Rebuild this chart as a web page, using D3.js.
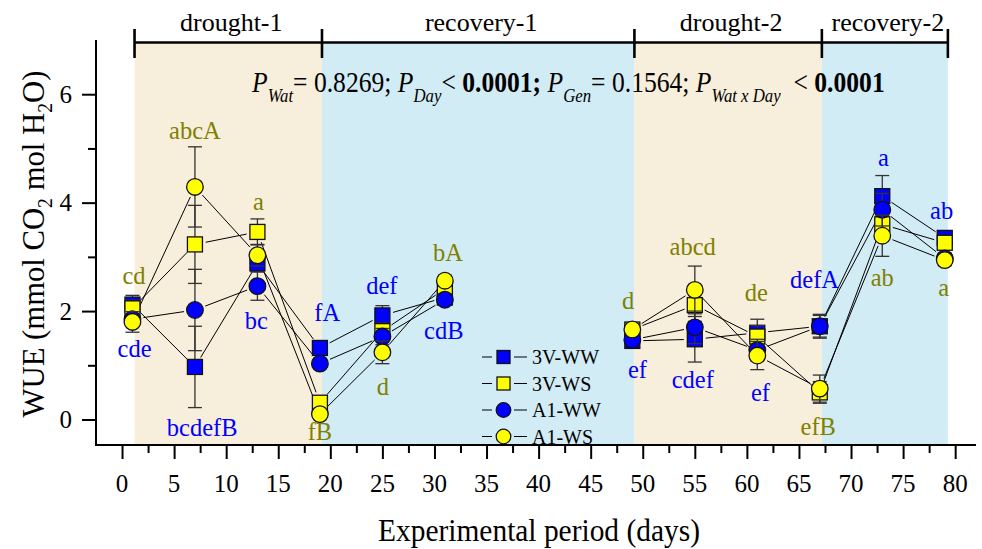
<!DOCTYPE html>
<html>
<head>
<meta charset="utf-8">
<script src="https://cdn.jsdelivr.net/npm/d3@7"></script>
<style>
  html, body { margin: 0; padding: 0; background: #fff; }
  svg { display: block; font-family: "Liberation Serif", "Times New Roman", serif; }
  text { white-space: pre; }
</style>
</head>
<body>
<svg id="chart" width="982" height="549"></svg>
<script>
// ---- data -------------------------------------------------------------
const days = [1, 7, 13, 19, 25, 31, 49, 55, 61, 67, 73, 79];

const wue3VWW = [2.12, 0.97, 2.88, 1.32, 1.92, 2.25, 1.45, 1.48, 1.60, 1.72, 4.12, 3.35];
const wue3VWS = [2.05, 3.23, 3.46, 0.31, 1.63, 2.41, 1.66, 2.11, 1.53, 0.50, 3.60, 3.26];
const wueA1WW = [1.85, 2.02, 2.46, 1.03, 1.53, 2.21, 1.47, 1.70, 1.28, 1.72, 3.87, 2.97];
const wueA1WS = [1.80, 4.29, 3.03, 0.10, 1.24, 2.56, 1.66, 2.39, 1.18, 0.57, 3.39, 2.94];

const se3VWW = [0.17, 0.75, 0.15, 0.08, 0.18, 0.10, 0.10, 0.42, 0.25, 0.20, 0.38, 0.10];
const se3VWS = [0.15, 0.72, 0.24, 0.10, 0.15, 0.10, 0.10, 0.30, 0.20, 0.20, 0.30, 0.10];
const seA1WW = [0.10, 0.75, 0.26, 0.08, 0.15, 0.10, 0.10, 0.30, 0.20, 0.22, 0.30, 0.10];
const seA1WS = [0.19, 0.74, 0.20, 0.08, 0.21, 0.10, 0.10, 0.44, 0.26, 0.25, 0.38, 0.10];

const seriesNames = ["3V-WW", "3V-WS", "A1-WW", "A1-WS"];
const seriesShapes = ["square", "square", "circle", "circle"];
const seriesColors = ["#0000ff", "#ffff00", "#0000ff", "#ffff00"];

// measurement runs that are joined by lines
const runs = [[1, 31], [49, 79]];

// experimental phases
const phaseNames = ["drought-1", "recovery-1", "drought-2", "recovery-2"];
const phaseKinds = ["drought", "recovery", "drought", "recovery"];
const phaseEdges = [1.2, 19.2, 49.2, 67.2, 79.3];

// axes
const xTicks = d3.range(0, 81, 5);
const xMinorTicks = d3.range(2.5, 80, 5);
const yTicks = [0, 2, 4, 6];
const yMinorTicks = [1, 3, 5];

// significance letters (WW = blue, WS = olive)
const letterText  = ["cd", "cde", "abcA", "a", "bc", "bcdefB", "fA", "fB", "def", "d", "bA", "cdB",
                     "d", "ef", "abcd", "cdef", "de", "ef", "defA", "efB", "a", "ab", "ab", "a"];
const letterDay   = [1.15, 1.2, 7, 13.1, 12.9, 7.7, 19.7, 19.0, 24.95, 25.05, 31.3, 30.9,
                     48.6, 49.5, 54.8, 54.8, 60.9, 61.3, 66.5, 66.85, 73.1, 73.0, 78.7, 78.9];
const letterValue = [2.50, 1.15, 5.18, 3.87, 1.67, -0.31, 1.81, -0.37, 2.31, 0.46, 2.92, 1.49,
                     2.03, 0.77, 3.03, 0.58, 2.18, 0.34, 2.43, -0.28, 4.67, 2.47, 3.69, 2.27];
const letterGroup = ["WS", "WW", "WS", "WS", "WW", "WW", "WW", "WS", "WW", "WS", "WS", "WW",
                     "WS", "WW", "WS", "WW", "WS", "WW", "WW", "WS", "WW", "WS", "WW", "WS"];

// ANOVA summary
const anovaParts = [
  { t: "P", it: true }, { t: "Wat", it: true, sub: true }, { t: "= 0.8269; " },
  { t: "P", it: true }, { t: "Day", it: true, sub: true }, { t: "< " }, { t: "0.0001;", b: true },
  { t: " P", it: true }, { t: "Gen", it: true, sub: true }, { t: "= 0.1564; " },
  { t: "P", it: true }, { t: "Wat x Day", it: true, sub: true }, { t: "  < " }, { t: "0.0001", b: true }
];

// ---- layout -----------------------------------------------------------
const svg = d3.select("#chart");
const x = d3.scaleLinear().domain([-2.5, 82]).range([96, 976]);
const y = d3.scaleLinear().domain([-0.47, 7]).range([445, 40]);

const seriesValues = [wue3VWW, wue3VWS, wueA1WW, wueA1WS];
const seriesErrors = [se3VWW, se3VWS, seA1WW, seA1WS];
const letterColor = { WW: "#0000ff", WS: "#808000" };
const phaseFill = { drought: "#f8eedc", recovery: "#d2ecf5" };

// shaded phases
svg.append("g").selectAll("rect")
  .data(phaseNames)
  .join("rect")
  .attr("x", (d, i) => x(phaseEdges[i]))
  .attr("width", (d, i) => x(phaseEdges[i + 1]) - x(phaseEdges[i]))
  .attr("y", y(7) + 2)
  .attr("height", y(-0.47) - y(7) - 2)
  .attr("fill", (d, i) => phaseFill[phaseKinds[i]]);

// phase bracket on top
const bracketY = 42.5;
const bracket = svg.append("g").attr("stroke", "#000").attr("stroke-width", 2.6);
bracket.append("line")
  .attr("x1", x(phaseEdges[0])).attr("x2", x(phaseEdges[phaseEdges.length - 1]))
  .attr("y1", bracketY).attr("y2", bracketY);
bracket.selectAll("line.edge")
  .data(phaseEdges)
  .join("line").attr("class", "edge")
  .attr("x1", d => x(d)).attr("x2", d => x(d))
  .attr("y1", 29).attr("y2", 58);
svg.append("g").selectAll("text")
  .data(phaseNames)
  .join("text")
  .attr("x", (d, i) => (x(phaseEdges[i]) + x(phaseEdges[i + 1])) / 2 + 3)
  .attr("y", 31)
  .attr("text-anchor", "middle")
  .attr("font-size", 26)
  .text(d => d);

// axes
const axisG = svg.append("g").attr("stroke", "#000").attr("stroke-width", 2);
axisG.append("line").attr("x1", x.range()[0]).attr("x2", x.range()[0])
  .attr("y1", y.range()[1]).attr("y2", y.range()[0] + 1);
axisG.append("line").attr("x1", x.range()[0] - 1).attr("x2", x.range()[1])
  .attr("y1", y.range()[0]).attr("y2", y.range()[0]);

const xAxis = d3.axisBottom(x).tickValues(xTicks).tickSize(14).tickSizeOuter(0).tickFormat("");
const xAxisMinor = d3.axisBottom(x).tickValues(xMinorTicks).tickSize(8).tickSizeOuter(0).tickFormat("");
const yAxis = d3.axisLeft(y).tickValues(yTicks).tickSize(14).tickSizeOuter(0).tickFormat("");
const yAxisMinor = d3.axisLeft(y).tickValues(yMinorTicks).tickSize(8).tickSizeOuter(0).tickFormat("");

[
  [xAxis, `translate(0,${y.range()[0]})`],
  [xAxisMinor, `translate(0,${y.range()[0]})`],
  [yAxis, `translate(${x.range()[0]},0)`],
  [yAxisMinor, `translate(${x.range()[0]},0)`]
].forEach(([ax, tr]) => {
  const g = svg.append("g").attr("transform", tr).call(ax);
  g.select(".domain").remove();
  g.selectAll(".tick line").attr("stroke", "#000").attr("stroke-width", 2);
});

svg.append("g").selectAll("text")
  .data(xTicks)
  .join("text")
  .attr("x", d => x(d))
  .attr("y", y.range()[0] + 47)
  .attr("text-anchor", "middle")
  .attr("font-size", 25)
  .text(d => d);

svg.append("g").selectAll("text")
  .data(yTicks)
  .join("text")
  .attr("x", 72)
  .attr("y", d => y(d) + 8.5)
  .attr("text-anchor", "end")
  .attr("font-size", 25)
  .text(d => d);

// fits a text element horizontally to a given width around its anchor point
function fitWidth(sel, ax, ay, width, rotate) {
  const w = sel.node().getComputedTextLength();
  const s = width / w;
  sel.attr("x", 0).attr("y", 0)
    .attr("transform", `translate(${ax},${ay})${rotate ? " rotate(-90)" : ""} scale(${s},1)`);
}

// axis titles
const xTitle = svg.append("text")
  .attr("text-anchor", "middle").attr("font-size", 31)
  .text("Experimental period (days)");
fitWidth(xTitle, 539, 541, 322);

const yTitle = svg.append("text").attr("text-anchor", "middle").attr("font-size", 31);
yTitle.append("tspan").text("WUE (mmol CO");
yTitle.append("tspan").attr("font-size", 20).attr("dy", 8).text("2");
yTitle.append("tspan").attr("dy", -8).text(" mol H");
yTitle.append("tspan").attr("font-size", 20).attr("dy", 8).text("2");
yTitle.append("tspan").attr("dy", -8).text("O)");
fitWidth(yTitle, 44, 244, 347, true);

// ANOVA summary line
const anova = svg.append("text").attr("font-size", 29);
let lifted = false;
anovaParts.forEach(p => {
  const ts = anova.append("tspan").text(p.t);
  if (p.it) ts.attr("font-style", "italic");
  if (p.b) ts.attr("font-weight", "bold");
  if (p.sub) { ts.attr("font-size", 19).attr("dy", 10); lifted = true; }
  else if (lifted) { ts.attr("dy", -10); lifted = false; }
});
fitWidth(anova, 252, 92, 633);

// connecting lines, broken between the two cycles and kept clear of the symbols
const gap = 11;
const lineG = svg.append("g").attr("stroke", "#000").attr("stroke-width", 1);
seriesValues.forEach(vals => {
  for (let i = 0; i < days.length - 1; i++) {
    const sameRun = runs.some(r => days[i] >= r[0] && days[i + 1] <= r[1]);
    if (!sameRun) continue;
    const x1 = x(days[i]), y1 = y(vals[i]), x2 = x(days[i + 1]), y2 = y(vals[i + 1]);
    const len = Math.hypot(x2 - x1, y2 - y1);
    if (len <= 2 * gap) continue;
    const ux = (x2 - x1) / len, uy = (y2 - y1) / len;
    lineG.append("line")
      .attr("x1", x1 + ux * gap).attr("y1", y1 + uy * gap)
      .attr("x2", x2 - ux * gap).attr("y2", y2 - uy * gap);
  }
});

// error bars and symbols, series by series
function drawSymbol(g, shape, color, cx, cy, size) {
  if (shape === "square") {
    g.append("rect")
      .attr("x", cx - size / 2).attr("y", cy - size / 2)
      .attr("width", size).attr("height", size)
      .attr("fill", color).attr("stroke", "#111").attr("stroke-width", 1.3);
  } else {
    g.append("circle")
      .attr("cx", cx).attr("cy", cy).attr("r", size / 2 + 0.8)
      .attr("fill", color).attr("stroke", "#111").attr("stroke-width", 1.3);
  }
}

seriesValues.forEach((vals, s) => {
  const g = svg.append("g");
  vals.forEach((v, i) => {
    const cx = x(days[i]);
    const lo = y(v - seriesErrors[s][i]), hi = y(v + seriesErrors[s][i]);
    const eb = g.append("g").attr("stroke", "#333").attr("stroke-width", 1.3);
    eb.append("line").attr("x1", cx).attr("x2", cx).attr("y1", lo).attr("y2", hi);
    eb.append("line").attr("x1", cx - 7).attr("x2", cx + 7).attr("y1", lo).attr("y2", lo);
    eb.append("line").attr("x1", cx - 7).attr("x2", cx + 7).attr("y1", hi).attr("y2", hi);
  });
  vals.forEach((v, i) => drawSymbol(g, seriesShapes[s], seriesColors[s], x(days[i]), y(v), 15));
});

// significance letters
svg.append("g").selectAll("text")
  .data(letterText)
  .join("text")
  .attr("x", (d, i) => x(letterDay[i]))
  .attr("y", (d, i) => y(letterValue[i]))
  .attr("text-anchor", "middle")
  .attr("font-size", 24.5)
  .attr("fill", (d, i) => letterColor[letterGroup[i]])
  .text(d => d);

// legend
const legend = svg.append("g");
seriesNames.forEach((name, i) => {
  const ly = 357 + i * 26.5;
  const row = legend.append("g");
  row.append("line").attr("x1", 482).attr("x2", 492).attr("y1", ly).attr("y2", ly)
    .attr("stroke", "#000").attr("stroke-width", 1);
  row.append("line").attr("x1", 514).attr("x2", 527).attr("y1", ly).attr("y2", ly)
    .attr("stroke", "#000").attr("stroke-width", 1);
  drawSymbol(row, seriesShapes[i], seriesColors[i], 503.5, ly, 13);
  row.append("text").attr("x", 532).attr("y", ly + 7).attr("font-size", 20).text(name);
});
</script>
</body>
</html>
